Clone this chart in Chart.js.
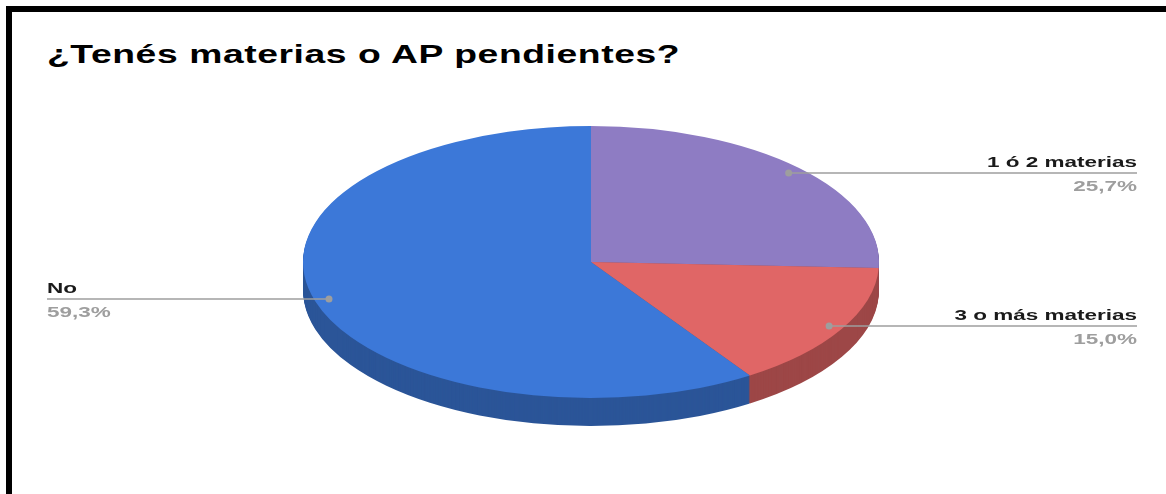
<!DOCTYPE html>
<html>
<head>
<meta charset="utf-8">
<script src="https://cdn.jsdelivr.net/npm/chart.js@4.4.0/dist/chart.umd.min.js"></script>
<style>
html, body { margin: 0; padding: 0; background: #fff; }
#wrap { position: relative; width: 1166px; height: 494px; overflow: hidden; }
#frame { position: absolute; left: 6px; top: 6px; right: -20px; bottom: -20px; border-top: 6px solid #000; border-left: 6px solid #000; }
#title { position: absolute; left: 47px; top: 39px; margin: 0; font: bold 25px/30px "Liberation Sans", Arial, sans-serif; color: #000; letter-spacing: 0.4px; white-space: nowrap; transform: scaleX(1.49); transform-origin: left top; }
canvas { position: absolute; left: 0; top: 0; }
</style>
</head>
<body>
<div id="wrap">
  <div id="frame"></div>
  <h1 id="title">¿Tenés materias o AP pendientes?</h1>
  <canvas id="myChart" width="1166" height="494"></canvas>
</div>
<script>
const $ = (selector)=>{
    return document.querySelector(selector);
}

// data (percent of answers)
const categories = ['1 ó 2 materias', '3 o más materias', 'No'];
const shares = [25.7, 15.0, 59.3];

// colours of the top face and of the side wall
const topColors = ['#8e7cc3', '#e06666', '#3c78d8'];
const sideColors = ['#635689', '#9d4747', '#2b5598'];

// look of the fake 3D pie
const stretchX = 288 / 136;
const depth = 28;
const textStretch = 1.5;
const lineGrey = '#9e9e9e';

//squashes the round pie into an ellipse and paints the side wall under it
const tiltPlugin = {
    id: 'tilt',
    beforeDatasetsDraw: (chart)=>{
        const ctx = chart.ctx;
        const arcs = chart.getDatasetMeta(0).data;
        const a = arcs[0];
        ctx.save();
        ctx.translate(a.x, a.y);
        ctx.scale(stretchX, 1);
        ctx.translate(-a.x, -a.y);
        for(let d = depth; d >= 1; d--){
            ctx.save();
            ctx.translate(0, d);
            arcs.forEach((arc, i)=>{
                const saved = arc.options;
                arc.options = Object.assign({}, saved, {backgroundColor: sideColors[i]});
                arc.draw(ctx);
                arc.options = saved;
            });
            ctx.restore();
        }
    },
    afterDatasetsDraw: (chart)=>{
        chart.ctx.restore();
    },
    //leader lines, names and percentages
    afterDraw: (chart)=>{
        const ctx = chart.ctx;
        const arcs = chart.getDatasetMeta(0).data;
        const total = shares.reduce((s, v)=> s + v, 0);
        arcs.forEach((arc, i)=>{
            const mid = (arc.startAngle + arc.endAngle) / 2;
            const px = arc.x + Math.cos(mid) * arc.outerRadius * 0.95 * stretchX;
            const py = Math.round(arc.y + Math.sin(mid) * arc.outerRadius * 0.95);
            const right = Math.cos(mid) >= 0;
            const ex = right ? chart.width - 29 : 47;

            ctx.save();
            ctx.strokeStyle = lineGrey;
            ctx.lineWidth = 1.5;
            ctx.beginPath();
            ctx.moveTo(px, py);
            ctx.lineTo(ex, py);
            ctx.stroke();
            ctx.fillStyle = lineGrey;
            ctx.beginPath();
            ctx.arc(px, py, 3.5, 0, Math.PI * 2);
            ctx.fill();

            //text is drawn wide, like the stretched original
            ctx.translate(ex, py);
            ctx.scale(textStretch, 1);
            ctx.textAlign = right ? 'right' : 'left';
            ctx.textBaseline = 'alphabetic';
            ctx.font = 'bold 15px "Liberation Sans", Arial, sans-serif';
            ctx.fillStyle = '#1a1a1a';
            ctx.fillText(categories[i], 0, -6);
            ctx.fillStyle = lineGrey;
            const pct = (shares[i] / total * 100).toFixed(1).replace('.', ',') + '%';
            ctx.fillText(pct, 0, 18);
            ctx.restore();
        });
    }
};

const ctx = $('#myChart').getContext('2d');
new Chart(ctx, {
    type: 'pie',
    data: {
        labels: categories,
        datasets: [{
            data: shares,
            backgroundColor: topColors,
            borderWidth: 0,
            clip: false
        }]
    },
    options: {
        responsive: false,
        animation: false,
        events: [],
        layout: {
            padding: {top: 126, bottom: 96, left: 316, right: 300}
        },
        plugins: {
            legend: {display: false},
            tooltip: {enabled: false},
            title: {display: false}
        }
    },
    plugins: [tiltPlugin]
});
</script>
</body>
</html>
